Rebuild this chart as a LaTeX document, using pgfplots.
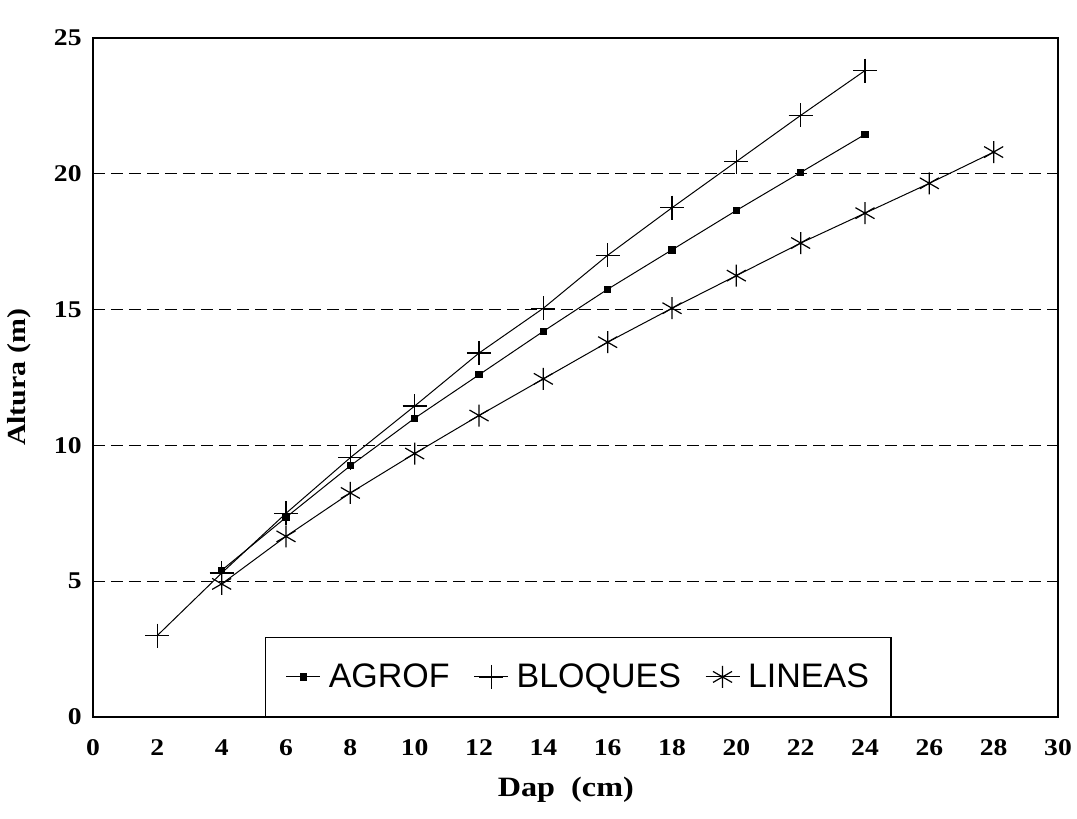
\documentclass[border=0pt]{standalone}
\usepackage{pgfplots}
\pgfplotsset{compat=1.18}
\usepackage{fontspec}
\setmainfont{Liberation Serif}[FakeStretch=1.15]
\newfontfamily\legfont{Liberation Sans}

\begin{document}
\begin{tikzpicture}
\useasboundingbox (-46.5pt,-51pt) rectangle (492pt,358.5pt);
\begin{axis}[
  at={(0pt,0pt)}, anchor=south west,
  scale only axis, width=482.5pt, height=339.5pt,
  xmin=0, xmax=30, ymin=0, ymax=25,
  xtick={0,2,...,30}, ytick={0,5,...,25},
  major tick length=0pt,
  ymajorgrids,
  grid style={black, line width=0.5pt, dash pattern=on 6pt off 3pt},
  axis line style={line width=0.8pt},
  /pgf/number format/assume math mode=true,
  tick label style={font=\bfseries\fontsize{12}{14}\selectfont, inner sep=0pt},
  xticklabel style={anchor=north, yshift=-11pt},
  yticklabel style={anchor=east, xshift=-5.5pt},
  xlabel={Dap\ \ (cm)}, ylabel={Altura (m)},
  label style={font=\bfseries\fontsize{13}{15}\selectfont},
  xlabel style={at={(axis description cs:0.49,-0.1075)}, anchor=center,
                font=\bfseries\fontsize{14}{16}\selectfont},
  ylabel style={at={(axis description cs:-0.0762,0.5)}, anchor=center},
  legend columns=3,
  legend image code/.code={\draw[mark repeat=2,mark phase=2,#1]
      plot coordinates {(0pt,0pt) (8.5pt,0pt) (17pt,0pt)};},
  legend style={at={(axis description cs:0.1783,0)}, anchor=south west,
      draw=black, line width=0.7pt, inner xsep=10pt, inner ysep=12pt,
      font=\legfont\fontsize{17}{20}\selectfont,
      nodes={inner sep=1pt},
      /tikz/every odd column/.append style={column sep=3pt},
      /tikz/every even column/.append style={column sep=11pt}},
]
% AGROF
\addplot[black, line width=0.5pt, mark=square*, mark size=1.6pt] coordinates {
  (4,5.4) (6,7.35) (8,9.25) (10,11.0) (12,12.6) (14,14.2) (16,15.75)
  (18,17.2) (20,18.65) (22,20.05) (24,21.45)};
\addlegendentry{AGROF}
% BLOQUES
\addplot[black, line width=0.5pt, mark=+, mark size=6pt,
         mark options={line width=0.6pt}] coordinates {
  (2,3.0) (4,5.3) (6,7.5) (8,9.55) (10,11.45) (12,13.4) (14,15.05)
  (16,17.0) (18,18.75) (20,20.45) (22,22.15) (24,23.8)};
\addlegendentry{BLOQUES}
% LINEAS
\addplot[black, line width=0.5pt, mark=asterisk, mark size=5.5pt,
         mark options={line width=0.6pt}] coordinates {
  (4,4.9) (6,6.65) (8,8.25) (10,9.7) (12,11.1) (14,12.45) (16,13.8)
  (18,15.05) (20,16.25) (22,17.45) (24,18.55) (26,19.65) (28,20.8)};
\addlegendentry{LINEAS}
\end{axis}
\end{tikzpicture}
\end{document}
